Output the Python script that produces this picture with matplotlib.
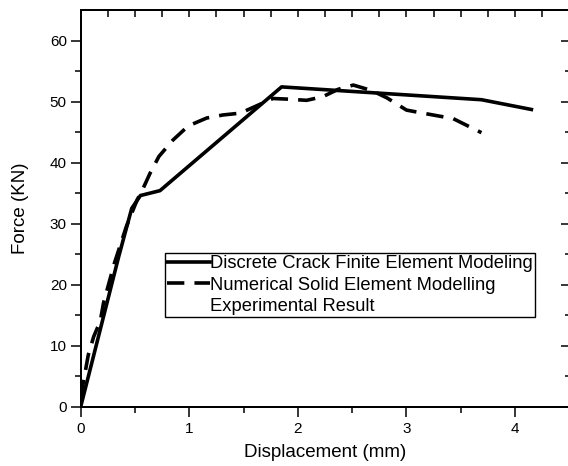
import matplotlib.pyplot as plt
import numpy as np

plt.rcParams['font.family'] = ['Liberation Sans', 'DejaVu Sans']

# Discrete crack finite element model
crack_disp = [0.0, 0.35, 0.47, 0.55, 0.73, 1.85, 3.69, 4.15]
crack_force = [0.0, 24.6, 32.5, 34.6, 35.4, 52.4, 50.3, 48.7]

# Numerical solid element model
solid_disp = [0.0, 0.07, 0.12, 0.18, 0.21, 0.31, 0.42, 0.52, 0.56, 0.64, 0.72, 0.85, 0.99,
              1.16, 1.31, 1.47, 1.62, 1.77, 1.90, 2.08, 2.23, 2.37, 2.51, 2.68, 2.82,
              3.00, 3.12, 3.43, 3.69]
solid_force = [1.6, 8.5, 11.5, 14.0, 17.0, 23.5, 29.5, 33.9, 35.2, 38.3, 41.0, 43.7, 46.0,
               47.3, 47.8, 48.1, 49.3, 50.5, 50.4, 50.2, 50.8, 52.0, 52.7, 51.8, 50.6,
               48.6, 48.2, 47.2, 44.9]

labels = ['Discrete Crack Finite Element Modeling',
          'Numerical Solid Element Modelling',
          'Experimental Result']

fig = plt.figure(figsize=(5.68, 4.66), dpi=100)
ax = fig.add_axes([80.7 / 568, 59.3 / 466, 488.7 / 568, 396.7 / 466])

ax.plot(crack_disp, crack_force, color='black', lw=2.6, solid_joinstyle='round',
        label=labels[0])
ax.plot(solid_disp, solid_force, color='black', lw=2.6, ls=(0, (4.8, 2.8)),
        label=labels[1])
ax.plot([], [], ls='none', label=labels[2])

ax.set_xlim(0, 4.5)
ax.set_ylim(0, 65)
ax.set_xticks(np.arange(0, 4.5, 1))
ax.set_xticks(np.arange(0, 4.51, 0.5), minor=True)
ax.set_yticks(np.arange(0, 61, 10))
ax.set_yticks(np.arange(0, 65, 5), minor=True)
ax.tick_params(which='major', direction='out', length=7, width=1.1, labelsize=11, pad=3)
ax.tick_params(which='minor', direction='out', length=4, width=1.1)
ax.tick_params(axis='x', which='major', pad=4)

# mirrored inward ticks on top and right
top = ax.twiny()
top.set_xlim(ax.get_xlim())
top.set_xticks(np.arange(0, 4.51, 0.25))
top.tick_params(direction='in', length=5, width=1.1, labeltop=False)
right = ax.twinx()
right.set_ylim(ax.get_ylim())
right.set_yticks(np.arange(0, 65, 10))
right.set_yticks(np.arange(0, 65, 5), minor=True)
right.tick_params(which='major', direction='in', length=6, width=1.1, labelright=False)
right.tick_params(which='minor', direction='in', length=3, width=1.1)

for a in (ax, top, right):
    for sp in a.spines.values():
        sp.set_linewidth(1.3)

ax.set_xlabel('Displacement (mm)', fontsize=13.5, labelpad=6)
ax.set_ylabel('Force (KN)', fontsize=13.5, labelpad=15)

leg = right.legend(*ax.get_legend_handles_labels(), loc='upper left',
                   bbox_to_anchor=(165.3 / 568, 1 - 253.3 / 466),
                   bbox_transform=fig.transFigure, borderaxespad=0, fontsize=13.2,
                   frameon=True, fancybox=False, edgecolor='black', framealpha=1,
                   handlelength=2.35, handletextpad=0.0, labelspacing=0.25,
                   borderpad=0.1)
leg.get_frame().set_linewidth(1.0)

fig.savefig('out.png', dpi=100)
